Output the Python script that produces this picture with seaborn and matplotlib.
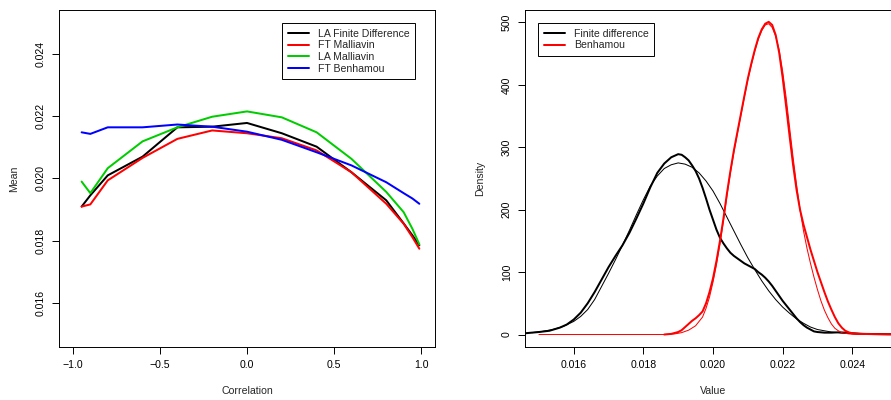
import matplotlib
matplotlib.use('Agg')
import matplotlib.pyplot as plt
from matplotlib.ticker import FuncFormatter
import seaborn as sns

# left panel: mean against correlation
corr = [-0.95, -0.9, -0.8, -0.6, -0.4, -0.2, 0.0, 0.2, 0.4, 0.6, 0.8, 0.9, 0.95, 0.99]
la_fd = [0.0191, 0.01946, 0.0201, 0.0207, 0.02164, 0.02166, 0.02178, 0.02145,
         0.02102, 0.0202, 0.0193, 0.01856, 0.01818, 0.01786]
ft_mall = [0.0191, 0.01917, 0.01994, 0.02066, 0.02127, 0.02154, 0.02145, 0.02129,
           0.0209, 0.0202, 0.01919, 0.01855, 0.01812, 0.01775]
la_mall = [0.0199, 0.01953, 0.02033, 0.02119, 0.02164, 0.02198, 0.02215, 0.02196,
           0.02148, 0.02063, 0.01957, 0.01892, 0.01839, 0.01789]
ft_ben = [0.02148, 0.02143, 0.02164, 0.02164, 0.02173, 0.02166, 0.0215, 0.02124,
          0.02084, 0.02042, 0.01988, 0.01953, 0.01936, 0.01919]
left_names = ['LA Finite Difference', 'FT Malliavin', 'LA Malliavin', 'FT Benhamou']
left_colors = ['black', '#FF0000', '#00CD00', '#0000FF']

# right panel: densities (thick = kernel density, thin = fitted curve)
fd_x = [0.0146, 0.0150, 0.0153, 0.0156, 0.0158, 0.0160, 0.0162, 0.0164, 0.0166, 0.0168,
        0.0170, 0.0172, 0.0174, 0.0176, 0.0178, 0.0180, 0.0182, 0.0184, 0.0186, 0.0188,
        0.0190, 0.0191, 0.0192, 0.0193, 0.0194, 0.0195, 0.0196, 0.0197, 0.0198, 0.0199,
        0.0200, 0.0201, 0.0202, 0.0203, 0.0204, 0.0205, 0.0206, 0.0207, 0.0208, 0.0209,
        0.0210, 0.0211, 0.0212, 0.0213, 0.0214, 0.0215, 0.0216, 0.0217, 0.0218, 0.0219,
        0.0220, 0.0221, 0.0222, 0.0223, 0.0224, 0.0225, 0.0226, 0.0227, 0.0228, 0.0229,
        0.0230, 0.0232, 0.0234, 0.0236, 0.0238, 0.0240, 0.0243, 0.0250, 0.0256]
fd_y = [2, 4, 6, 11, 16, 24, 35, 50, 68, 88,
        108, 126, 143, 163, 186, 210, 236, 259, 274, 284,
        289, 288, 284, 279, 271, 262, 250, 235, 218, 200,
        184, 168, 155, 146, 138, 131, 126, 122, 118, 114,
        111, 108, 105, 100, 96, 91, 85, 78, 70, 62,
        54, 47, 40, 33, 26, 20, 15, 11, 8, 5,
        4, 3, 3, 3.5, 3, 2, 1, 0.5, 0.3]
fd_fit_x = [0.0148, 0.0151, 0.0154, 0.0157, 0.0160, 0.0162, 0.0164, 0.0166, 0.0168, 0.0170,
            0.0172, 0.0174, 0.0176, 0.0178, 0.0180, 0.0182, 0.0184, 0.0186, 0.0188, 0.0190,
            0.0192, 0.0194, 0.0196, 0.0198, 0.0200, 0.0202, 0.0204, 0.0206, 0.0208, 0.0210,
            0.0212, 0.0214, 0.0216, 0.0218, 0.0220, 0.0222, 0.0224, 0.0226, 0.0228, 0.0230,
            0.0232, 0.0234, 0.0236, 0.0238, 0.0240, 0.0242]
fd_fit_y = [3, 5, 8, 13, 21, 29, 40, 56, 77, 98,
            120, 143, 167, 192, 216, 238, 254, 266, 272, 275,
            273, 268, 259, 246, 230, 210, 188, 166, 144, 123,
            104, 86, 70, 56, 44, 34, 25, 18, 12, 8,
            6, 4, 3, 2, 1.5, 1]
bh_x = [0.0186, 0.0188, 0.0190, 0.0191, 0.0192, 0.0193, 0.0194, 0.0195, 0.0196, 0.0197,
        0.0198, 0.0199, 0.0200, 0.0201, 0.0202, 0.0203, 0.0204, 0.0205, 0.0206, 0.0207,
        0.0208, 0.0209, 0.0210, 0.0211, 0.0212, 0.0213, 0.0214, 0.0215, 0.0216, 0.0217,
        0.0218, 0.0219, 0.0220, 0.0221, 0.0222, 0.0223, 0.0224, 0.0225, 0.0226, 0.0227,
        0.0228, 0.0229, 0.0230, 0.0231, 0.0232, 0.0233, 0.0234, 0.0235, 0.0236, 0.0237,
        0.0238, 0.0239, 0.0240, 0.0242, 0.0250, 0.0256]
bh_y = [0, 1, 4, 7, 12, 17, 22, 26, 31, 37,
        50, 68, 90, 118, 150, 186, 226, 262, 295, 324,
        353, 382, 410, 434, 456, 475, 489, 498, 501, 496,
        480, 452, 412, 366, 318, 272, 232, 200, 176, 156,
        136, 118, 100, 84, 68, 53, 40, 28, 18, 11,
        6, 3.5, 2, 1, 0.3, 0]
bh_fit_x = [0.0150, 0.0186, 0.0189, 0.0191, 0.0193, 0.0195, 0.0197, 0.0198, 0.0199, 0.0200,
            0.0201, 0.0202, 0.0203, 0.0204, 0.0205, 0.0206, 0.0207, 0.0208, 0.0209, 0.0210,
            0.0211, 0.0212, 0.0213, 0.0214, 0.0215, 0.0216, 0.0217, 0.0218, 0.0219, 0.0220,
            0.0221, 0.0222, 0.0223, 0.0224, 0.0225, 0.0226, 0.0227, 0.0228, 0.0229, 0.0230,
            0.0231, 0.0232, 0.0233, 0.0234, 0.0235, 0.0236, 0.0237, 0.0239, 0.0243]
bh_fit_y = [0, 0, 1, 3, 7, 14, 28, 42, 60, 84,
            112, 145, 182, 222, 259, 292, 322, 351, 380, 408,
            432, 454, 473, 487, 496, 498, 492, 478, 456, 422,
            380, 332, 284, 240, 200, 166, 138, 114, 92, 72,
            54, 39, 27, 17, 10, 6, 3, 1, 0]

left_xticks = [-1.0, -0.5, 0.0, 0.5, 1.0]
left_yticks = [0.016, 0.018, 0.020, 0.022, 0.024]
right_xticks = [0.016, 0.018, 0.020, 0.022, 0.024]
right_yticks = [0, 100, 200, 300, 400, 500]

sns.set_theme(style='ticks')
plt.rcParams['font.family'] = ['Liberation Sans', 'DejaVu Sans']

FS = 7.6
THICK = 1.44
THIN = 0.72

fig = plt.figure(figsize=(8.91, 4.0), dpi=100)
ax1 = fig.add_axes([59 / 891, 53 / 400, 376 / 891, 337 / 400])
ax2 = fig.add_axes([525 / 891, 53 / 400, 376 / 891, 337 / 400])

for vals, name, col in zip([la_fd, ft_mall, la_mall, ft_ben], left_names, left_colors):
    sns.lineplot(x=corr, y=vals, color=col, linewidth=THICK, label=name, ax=ax1)

sns.lineplot(x=fd_x, y=fd_y, color='black', linewidth=THICK, label='Finite difference', ax=ax2)
sns.lineplot(x=fd_fit_x, y=fd_fit_y, color='black', linewidth=THIN, ax=ax2)
sns.lineplot(x=bh_x, y=bh_y, color='#FF0000', linewidth=THICK, label='Benhamou', ax=ax2)
sns.lineplot(x=bh_fit_x, y=bh_fit_y, color='#FF0000', linewidth=THIN, ax=ax2)


def minus(v, pos, fmt):
    return (fmt % v).replace('-', '\u2212')


def style_axes(ax, xticks, yticks, xfmt, yfmt, xlabel, ylabel):
    ax.set_xticks(xticks)
    ax.set_yticks(yticks)
    ax.xaxis.set_major_formatter(FuncFormatter(lambda v, p: minus(v, p, xfmt)))
    ax.yaxis.set_major_formatter(FuncFormatter(lambda v, p: minus(v, p, yfmt)))
    ax.tick_params(direction='out', length=5, width=0.7, pad=4.5, labelsize=FS,
                   colors='black', bottom=True, left=True)
    for lbl in ax.get_yticklabels():
        lbl.set_rotation(90)
        lbl.set_va('center')
    for sp in ax.spines.values():
        sp.set_visible(True)
        sp.set_color('black')
        sp.set_linewidth(0.7)
    ax.set_xlabel(xlabel, fontsize=FS)
    ax.set_ylabel(ylabel, fontsize=FS)
    ax.xaxis.set_label_coords(0.5, -0.116)
    ax.yaxis.set_label_coords(-0.107, 0.5)
    ax.grid(False)


ax1.set_xlim(-1.08, 1.08)
ax1.set_ylim(0.0146, 0.0254)
style_axes(ax1, left_xticks, left_yticks, '%.1f', '%.3f', 'Correlation', 'Mean')

ax2.set_xlim(0.0146, 0.0254)
ax2.set_ylim(-20, 520)
style_axes(ax2, right_xticks, right_yticks, '%.3f', '%d', 'Value', 'Density')

leg_kw = dict(loc='upper left', bbox_transform=fig.transFigure, borderaxespad=0,
              frameon=True, fancybox=False, edgecolor='black', framealpha=1,
              fontsize=FS, handlelength=2.0, handletextpad=0.85,
              labelspacing=0.15, borderpad=0.55)
leg1 = ax1.legend(bbox_to_anchor=(282 / 891, 1 - 23 / 400), **leg_kw)
leg1.get_frame().set_linewidth(0.7)
leg2 = ax2.legend(bbox_to_anchor=(538 / 891, 1 - 23 / 400), **leg_kw)
leg2.get_frame().set_linewidth(0.7)

fig.savefig('out.png', dpi=100)
